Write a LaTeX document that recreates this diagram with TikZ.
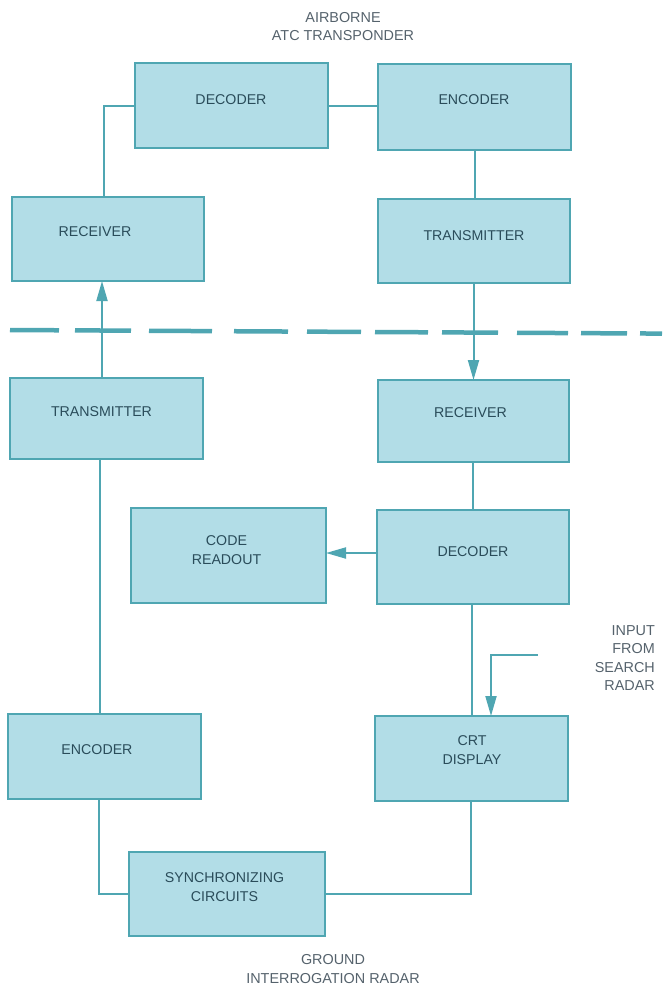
\documentclass[tikz,border=0pt]{standalone}
\usepackage{fontspec}
\setmainfont{Liberation Sans}
\usetikzlibrary{arrows.meta}
\definecolor{boxfill}{HTML}{B2DDE7}
\definecolor{boxline}{HTML}{4FA6B2}
\definecolor{ink}{HTML}{2A4C5A}
\definecolor{capink}{HTML}{55626C}
\tikzset{
  x=1pt,y=-1pt,
  block/.style={draw=boxline,line width=2pt,fill=boxfill,inner sep=0pt,outer sep=0pt},
  blocktext/.style={text=ink,align=center,font=\fontsize{14.2}{18.5}\selectfont,inner sep=0pt},
  link/.style={draw=boxline,line width=2pt},
  flow/.style={link,-{Triangle[length=20pt,width=11pt]}},
  caption/.style={text=capink,font=\fontsize{14.4}{18.5}\selectfont,inner sep=0pt},
  divider/.style={draw=boxline,line width=4.5pt},
}
\newcommand{\blockat}[8]{%
  \node[block,minimum width=#4pt-#2pt,minimum height=#5pt-#3pt] (#1) at ({(#2+#4)/2},{(#3+#5)/2}) {};
  \node[blocktext] (#1text) at (#7,#8) {#6};}
\begin{document}
\begin{tikzpicture}
\useasboundingbox (0,0) rectangle (662,986);
% divider
\foreach \xa/\xb in {10/59,75/131,149/212,234/288,307/361,375/428,442/498,517/568,581/627,640/662}
  \draw[divider] (\xa,{330+0.0055*(\xa-10)}) -- (\xb,{330+0.0055*(\xb-10)});
% blocks
\blockat{dectop}{135}{63}{328}{148}{DECODER}{231}{100}
\blockat{enctop}{378}{64}{571}{150}{ENCODER}{474}{100}
\blockat{rxtop}{12}{197}{204}{281}{RECEIVER}{95}{232}
\blockat{txtop}{378}{199}{570}{283}{TRANSMITTER}{474}{235.5}
\blockat{txgnd}{10}{378}{203}{459}{TRANSMITTER}{101.5}{412}
\blockat{rxgnd}{378}{380}{569}{462}{RECEIVER}{470.5}{413}
\blockat{code}{131}{508}{326}{603}{CODE\\READOUT}{226.5}{550}
\blockat{decgnd}{377}{510}{569}{604}{DECODER}{473}{552}
\blockat{encgnd}{8}{714}{201}{799}{ENCODER}{97}{750}
\blockat{crt}{375}{716}{568}{801}{CRT\\DISPLAY}{472}{750}
\blockat{sync}{129}{852}{325}{936}{SYNCHRONIZING\\CIRCUITS}{224.5}{887}
% connectors
\coordinate (inputend) at (538,655);
\draw[link] ([xshift=-4pt]rxtop.north) |- ([yshift=-0.5pt]dectop.west);
\draw[link] ([yshift=-0.5pt]dectop.east) -- ([yshift=-0.5pt]enctop.west |- dectop.east);
\draw[link] (enctop.south) -- (enctop.south |- txtop.north);
\draw[flow] ([xshift=-6pt]txgnd.north -| rxtop.north) -- ([xshift=-6pt]rxtop.south);
\draw[flow] ([xshift=-0.5pt]txtop.south) -- ([xshift=-0.5pt]txtop.south |- rxgnd.north);
\draw[link] ([xshift=-0.5pt]rxgnd.south) -- ([xshift=-0.5pt]rxgnd.south |- decgnd.north);
\draw[flow] ([yshift=2.5pt]decgnd.west |- code.east) -- ([yshift=2.5pt]code.east);
\draw[link] ([xshift=-1pt]decgnd.south) -- ([xshift=-1pt]decgnd.south |- crt.north);
\draw[flow] (inputend) -| ([xshift=19.5pt]crt.north);
\draw[link] ([xshift=-4.5pt]encgnd.north) -- ([xshift=-4.5pt]encgnd.north |- txgnd.south);
\draw[link] ([xshift=-5.5pt]encgnd.south) |- (sync.west);
\draw[link] (sync.east) -| ([xshift=-0.5pt]crt.south);
% captions
\node[caption,align=center] (cap1) at (343,26.5) {AIRBORNE\\ATC TRANSPONDER};
\node[caption,align=right,anchor=east] (cap2) at (655,658) {INPUT\\FROM\\SEARCH\\RADAR};
\node[caption,align=center] (cap3) at (333,969) {GROUND\\INTERROGATION RADAR};
\end{tikzpicture}
\end{document}
